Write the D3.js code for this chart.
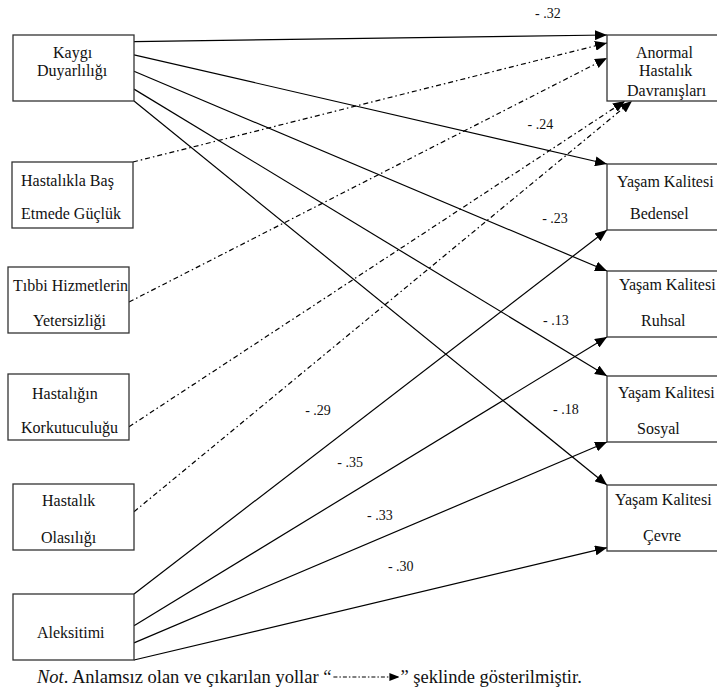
<!DOCTYPE html>
<html>
<head>
<meta charset="utf-8">
<script src="https://cdn.jsdelivr.net/npm/d3@7"></script>
<style>
  body { margin: 0; background: #fff; }
</style>
</head>
<body>
<div id="chart"></div>
<script>
// ---- data ----
var leftNodes = ["Kaygı Duyarlılığı", "Hastalıkla Baş Etmede Güçlük", "Tıbbi Hizmetlerin Yetersizliği",
                 "Hastalığın Korkutuculuğu", "Hastalık Olasılığı", "Aleksitimi"];
var leftLabels = [["Kaygı", "Duyarlılığı"], ["Hastalıkla Baş", "Etmede Güçlük"], ["Tıbbi Hizmetlerin", "Yetersizliği"],
                  ["Hastalığın", "Korkutuculuğu"], ["Hastalık", "Olasılığı"], ["Aleksitimi"]];
var rightNodes = ["Anormal Hastalık Davranışları", "Yaşam Kalitesi Bedensel", "Yaşam Kalitesi Ruhsal",
                  "Yaşam Kalitesi Sosyal", "Yaşam Kalitesi Çevre"];
var rightLabels = [["Anormal", "Hastalık", "Davranışları"], ["Yaşam Kalitesi", "Bedensel"], ["Yaşam Kalitesi", "Ruhsal"],
                   ["Yaşam Kalitesi", "Sosyal"], ["Yaşam Kalitesi", "Çevre"]];

var pathFrom = [0, 0, 0, 0, 0, 1, 2, 3, 4, 5, 5, 5, 5];
var pathTo   = [0, 1, 2, 3, 4, 0, 0, 0, 0, 1, 2, 3, 4];
var pathCoef = [-.32, -.24, -.23, -.13, -.18, null, null, null, null, -.29, -.35, -.33, -.30];
var footnote = ["Not", ". Anlamsız olan ve çıkarılan yollar “", "” şeklinde gösterilmiştir."];

// ---- layout ----
var W = 717, H = 689, boxH = 66;
var serif = "'Liberation Serif'";
var leftTop  = d3.scaleOrdinal().domain(leftNodes).range([35, 162, 267, 374, 484, 594]);
var leftX    = d3.scaleOrdinal().domain(leftNodes).range([13, 12, 8, 8, 13, 13]);
var leftW = 121;
var rightTop = d3.scaleOrdinal().domain(rightNodes).range([35, 164, 271, 376, 485]);
var rightX = 607, rightW = 115;
// text start x / centre y offsets inside boxes, one per line
var leftLineX = [[53, 37], [21, 21], [13, 33], [32, 21], [42, 41], [37]];
var leftLineY = [[17, 35], [18, 51], [18, 53], [19, 53], [16, 53], [38]];
var rightLineX = [[636, 639, 627], [617, 630], [619, 641], [618, 637], [615, 643]];
var rightLineY = [[17, 35, 55], [17, 49], [13, 49], [16, 52], [14, 50]];
// ports: source fraction of box height on right edge; target side & fraction
var srcFrac = [0.1, 0.3, 0.55, 0.82, 1, 0, 0.53, 0.8, 0.42, 0, 0.48, 0.74, 1];
var tgtSide = ["left", "left", "left", "left", "left", "left", "left", "bottom", "bottom", "left", "left", "left", "left"];
var tgtFrac = [0, 0, 0, 0, 0, 0.12, 0.35, 18, 25, 1, 1, 1, 0.95];
var labelT  = [0.875, 0.859, 0.89, 0.892, 0.913, 0, 0, 0, 0, 0.389, 0.457, 0.52, 0.564];
var labelDy = [-22, -24, -31, -25, -42, 0, 0, 0, 0, -42, -31, -23, -30];

var svg = d3.select("#chart").append("svg").attr("width", W).attr("height", H)
  .attr("font-family", serif);

var defs = svg.append("defs");
defs.append("marker")
  .attr("id", "arrow").attr("markerUnits", "userSpaceOnUse")
  .attr("viewBox", "0 0 12 10").attr("refX", 12).attr("refY", 5)
  .attr("markerWidth", 12).attr("markerHeight", 10).attr("orient", "auto")
  .append("path").attr("d", "M0,0L12,5L0,10Z").attr("fill", "#000");
defs.append("marker")
  .attr("id", "arrowSmall").attr("markerUnits", "userSpaceOnUse")
  .attr("viewBox", "0 0 10 8").attr("refX", 10).attr("refY", 4)
  .attr("markerWidth", 10).attr("markerHeight", 8).attr("orient", "auto")
  .append("path").attr("d", "M0,0L10,4L0,8Z").attr("fill", "#000");

var dashPattern = "5,3,1.5,3";

/*Draw paths*/
var paths = pathFrom.map(function(f, i) {
  var src = leftNodes[f], tgt = rightNodes[pathTo[i]];
  var x1 = leftX(src) + leftW, y1 = leftTop(src) + srcFrac[i] * boxH;
  var x2, y2;
  if (tgtSide[i] === "left") { x2 = rightX; y2 = rightTop(tgt) + tgtFrac[i] * boxH; }
  else { x2 = rightX + tgtFrac[i]; y2 = rightTop(tgt) + boxH; }
  return {x1: x1, y1: y1, x2: x2, y2: y2, coef: pathCoef[i], t: labelT[i], dy: labelDy[i]};
});

svg.append("g").selectAll("line").data(paths).enter().append("line")
  .attr("x1", function(d){return d.x1;}).attr("y1", function(d){return d.y1;})
  .attr("x2", function(d){return d.x2;}).attr("y2", function(d){return d.y2;})
  .attr("stroke", "#000").attr("stroke-width", 1.2)
  .attr("stroke-dasharray", function(d){return d.coef === null ? dashPattern : null;})
  .attr("marker-end", "url(#arrow)");

svg.append("g").selectAll("text").data(paths.filter(function(d){return d.coef !== null;})).enter().append("text")
  .attr("x", function(d){return d.x1 + (d.x2 - d.x1) * d.t;})
  .attr("y", function(d){return d.y1 + (d.y2 - d.y1) * d.t + d.dy;})
  .attr("text-anchor", "middle").attr("dominant-baseline", "central")
  .attr("font-family", serif).attr("font-size", 14).attr("fill", "#111")
  .text(function(d){return "- " + d3.format(".2f")(Math.abs(d.coef)).replace(/^0/, "");});

/*Draw boxes*/
var lg = svg.append("g").selectAll("g").data(leftNodes).enter().append("g");
lg.append("rect")
  .attr("x", function(d){return leftX(d);}).attr("y", function(d){return leftTop(d);})
  .attr("width", leftW).attr("height", boxH)
  .attr("fill", "#fff").attr("stroke", "#333").attr("stroke-width", 1.3);
lg.each(function(d, i) {
  var g = d3.select(this);
  leftLabels[i].forEach(function(s, k) {
    g.append("text").attr("x", leftLineX[i][k])
      .attr("y", leftTop(d) + leftLineY[i][k])
      .attr("dominant-baseline", "central")
      .attr("font-family", serif).attr("font-size", 16).attr("fill", "#111").text(s);
  });
});

var rg = svg.append("g").selectAll("g").data(rightNodes).enter().append("g");
rg.append("rect")
  .attr("x", rightX).attr("y", function(d){return rightTop(d);})
  .attr("width", rightW).attr("height", boxH)
  .attr("fill", "#fff").attr("stroke", "#333").attr("stroke-width", 1.3);
rg.each(function(d, i) {
  var g = d3.select(this);
  rightLabels[i].forEach(function(s, k) {
    g.append("text").attr("x", rightLineX[i][k])
      .attr("y", rightTop(d) + rightLineY[i][k])
      .attr("dominant-baseline", "central")
      .attr("font-family", serif).attr("font-size", 16).attr("fill", "#111").text(s);
  });
});

/*Footnote*/
var fy = 677, fs = 18.5, fx = 37;
var t1 = svg.append("text").attr("x", fx).attr("y", fy).attr("dominant-baseline", "central")
  .attr("font-family", serif).attr("font-size", fs).attr("fill", "#111");
t1.append("tspan").attr("font-style", "italic").text(footnote[0]);
t1.append("tspan").text(footnote[1]);
var end1 = fx + t1.node().getComputedTextLength();
var lx1 = end1 + 2, lx2 = lx1 + 66;
svg.append("line").attr("x1", lx1).attr("y1", fy).attr("x2", lx2).attr("y2", fy)
  .attr("stroke", "#000").attr("stroke-width", 1.2).attr("stroke-dasharray", "4,2,1.5,2")
  .attr("marker-end", "url(#arrowSmall)");
svg.append("text").attr("x", lx2 + 1).attr("y", fy).attr("dominant-baseline", "central")
  .attr("font-family", serif).attr("font-size", fs).attr("fill", "#111").text(footnote[2]);
</script>
</body>
</html>
